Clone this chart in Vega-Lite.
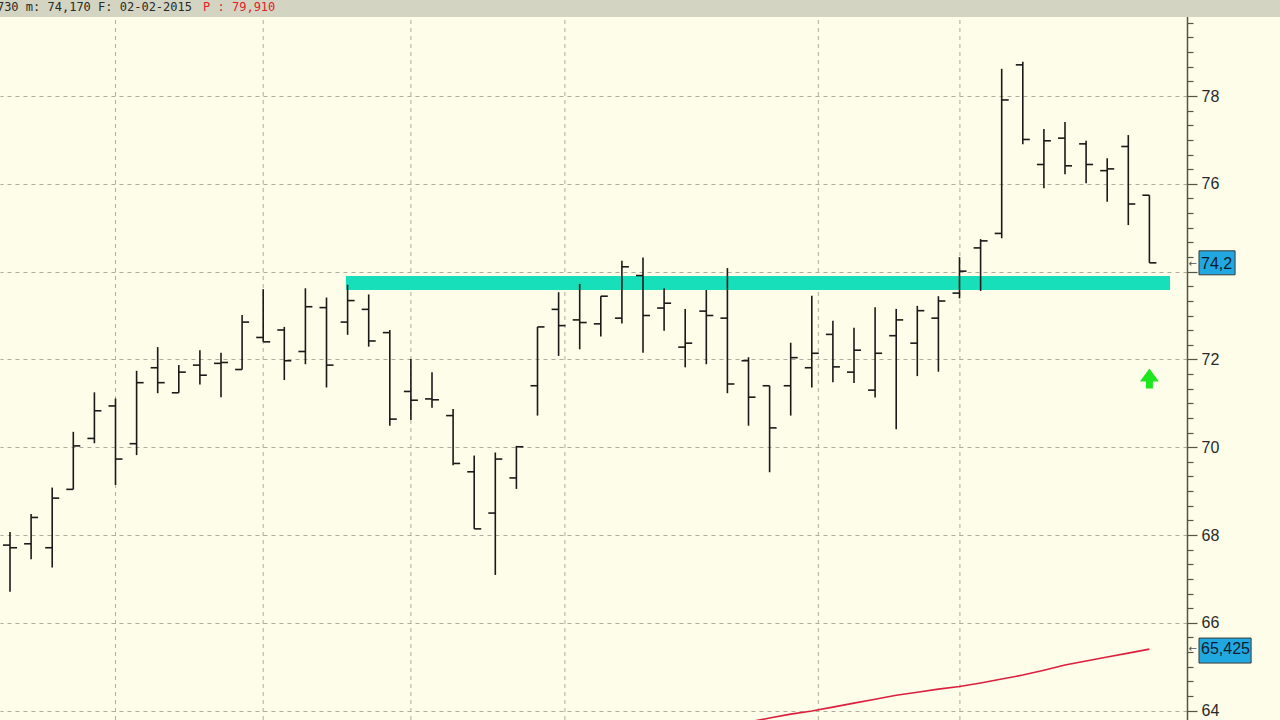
{
  "$schema": "https://vega.github.io/schema/vega-lite/v6.json",
  "width": 1187,
  "height": 720,
  "autosize": {"type": "none"},
  "padding": {"left": 0, "top": 0, "right": 93, "bottom": 0},
  "background": "#fdfde9",
  "config": {"view": {"stroke": null, "fill": "#fdfde9"}},
  "resolve": {"axis": {"y": "independent", "x": "independent"}},
  "datasets": {
    "bars": [
      {"i":1,"o":67.77,"h":68.07,"l":66.71,"c":67.71},
      {"i":2,"o":67.80,"h":68.48,"l":67.45,"c":68.40},
      {"i":3,"o":67.71,"h":69.08,"l":67.26,"c":68.84},
      {"i":4,"o":69.04,"h":70.35,"l":69.04,"c":70.03},
      {"i":5,"o":70.20,"h":71.25,"l":70.09,"c":70.83},
      {"i":6,"o":70.94,"h":71.11,"l":69.14,"c":69.73},
      {"i":7,"o":70.08,"h":71.74,"l":69.82,"c":71.47},
      {"i":8,"o":71.81,"h":72.28,"l":71.23,"c":71.47},
      {"i":9,"o":71.24,"h":71.87,"l":71.24,"c":71.71},
      {"i":10,"o":71.87,"h":72.21,"l":71.43,"c":71.64},
      {"i":11,"o":71.91,"h":72.15,"l":71.14,"c":71.93},
      {"i":12,"o":71.77,"h":73.01,"l":71.77,"c":72.85},
      {"i":13,"o":72.50,"h":73.60,"l":72.40,"c":72.40},
      {"i":14,"o":72.67,"h":72.74,"l":71.53,"c":71.97},
      {"i":15,"o":72.18,"h":73.62,"l":71.89,"c":73.20},
      {"i":16,"o":73.18,"h":73.41,"l":71.36,"c":71.87},
      {"i":17,"o":72.85,"h":73.70,"l":72.56,"c":73.34},
      {"i":18,"o":73.14,"h":73.48,"l":72.29,"c":72.42},
      {"i":19,"o":72.61,"h":72.67,"l":70.49,"c":70.64},
      {"i":20,"o":71.27,"h":72.01,"l":70.62,"c":71.07},
      {"i":21,"o":71.10,"h":71.71,"l":70.90,"c":71.08},
      {"i":22,"o":70.72,"h":70.87,"l":69.59,"c":69.63},
      {"i":23,"o":69.44,"h":69.81,"l":68.14,"c":68.14},
      {"i":24,"o":68.50,"h":69.88,"l":67.09,"c":69.73},
      {"i":25,"o":69.30,"h":70.03,"l":69.05,"c":70.01},
      {"i":26,"o":71.40,"h":72.74,"l":70.72,"c":72.74},
      {"i":27,"o":73.14,"h":73.53,"l":72.08,"c":72.77},
      {"i":28,"o":72.90,"h":73.72,"l":72.23,"c":72.84},
      {"i":29,"o":72.81,"h":73.44,"l":72.52,"c":73.44},
      {"i":30,"o":72.94,"h":74.25,"l":72.82,"c":74.11},
      {"i":31,"o":73.91,"h":74.32,"l":72.15,"c":73.00},
      {"i":32,"o":73.17,"h":73.62,"l":72.65,"c":73.28},
      {"i":33,"o":72.28,"h":73.15,"l":71.82,"c":72.37},
      {"i":34,"o":73.10,"h":73.58,"l":71.89,"c":73.00},
      {"i":35,"o":72.94,"h":74.08,"l":71.23,"c":71.44},
      {"i":36,"o":71.97,"h":72.05,"l":70.49,"c":71.14},
      {"i":37,"o":71.40,"h":71.40,"l":69.43,"c":70.44},
      {"i":38,"o":71.40,"h":72.38,"l":70.72,"c":72.04},
      {"i":39,"o":71.81,"h":73.45,"l":71.36,"c":72.14},
      {"i":40,"o":72.57,"h":72.88,"l":71.48,"c":71.83},
      {"i":41,"o":71.71,"h":72.72,"l":71.46,"c":72.21},
      {"i":42,"o":71.30,"h":73.19,"l":71.13,"c":72.14},
      {"i":43,"o":72.54,"h":73.15,"l":70.41,"c":72.90},
      {"i":44,"o":72.37,"h":73.22,"l":71.62,"c":73.11},
      {"i":45,"o":72.94,"h":73.44,"l":71.72,"c":73.33},
      {"i":46,"o":73.51,"h":74.33,"l":73.39,"c":74.01},
      {"i":47,"o":74.54,"h":74.74,"l":73.56,"c":74.70},
      {"i":48,"o":74.87,"h":78.62,"l":74.76,"c":77.91},
      {"i":49,"o":78.71,"h":78.78,"l":76.90,"c":77.01},
      {"i":50,"o":76.44,"h":77.25,"l":75.90,"c":76.98},
      {"i":51,"o":77.04,"h":77.41,"l":76.22,"c":76.41},
      {"i":52,"o":76.91,"h":76.98,"l":76.01,"c":76.44},
      {"i":53,"o":76.30,"h":76.58,"l":75.59,"c":76.34},
      {"i":54,"o":76.85,"h":77.11,"l":75.06,"c":75.54},
      {"i":55,"o":75.74,"h":75.74,"l":74.20,"c":74.20}
    ],
    "ma": [
      {"i":35,"m":63.65},{"i":36,"m":63.74},{"i":37,"m":63.83},{"i":38,"m":63.92},
      {"i":39,"m":63.99},{"i":40,"m":64.08},{"i":41,"m":64.17},{"i":42,"m":64.26},
      {"i":43,"m":64.35},{"i":44,"m":64.42},{"i":45,"m":64.49},{"i":46,"m":64.55},
      {"i":47,"m":64.63},{"i":48,"m":64.72},{"i":49,"m":64.81},{"i":50,"m":64.92},
      {"i":51,"m":65.04},{"i":52,"m":65.13},{"i":53,"m":65.22},{"i":54,"m":65.31},
      {"i":55,"m":65.40}
    ],
    "vgrid": [{"g":6},{"g":13},{"g":20},{"g":27.3},{"g":39.31},{"g":46.02}],
    "zone": [{"a":16.92,"b":55.98,"lo":73.58,"hi":73.90}]
  },
  "layer": [
    {
      "data": {"name": "vgrid"},
      "mark": {"type": "rule", "color": "#aeae9e", "strokeDash": [4, 4], "strokeWidth": 1},
      "encoding": {
        "x": {"field": "g", "type": "quantitative", "scale": {"domain": [0.526, 56.782], "nice": false, "zero": false}, "axis": null},
        "y": {
          "datum": 63.786, "type": "quantitative",
          "scale": {"domain": [63.786, 80.187], "nice": false, "zero": false},
          "axis": {
            "orient": "right",
            "title": null,
            "values": [64,64.3333,64.6667,65,65.3333,65.6667,66,66.3333,66.6667,67,67.3333,67.6667,68,68.3333,68.6667,69,69.3333,69.6667,70,70.3333,70.6667,71,71.3333,71.6667,72,72.3333,72.6667,73,73.3333,73.6667,74,74.3333,74.6667,75,75.3333,75.6667,76,76.3333,76.6667,77,77.3333,77.6667,78,78.3333,78.6667,79,79.3333,79.6667],
            "labelExpr": "abs(datum.value/2 - round(datum.value/2)) < 0.01 && abs(datum.value - 74) > 0.01 ? format(datum.value, 'd') : ''",
            "labelOverlap": false,
            "labelBound": false,
            "labelFlush": false,
            "labelFont": "Liberation Sans",
            "labelFontSize": 16,
            "labelColor": "#2a2a2a",
            "labelPadding": 4,
            "domainColor": "#555544",
            "domainWidth": 1.5,
            "tickColor": "#555544",
            "tickWidth": 1.2,
            "tickSize": {"condition": {"test": "abs(datum.value/2 - round(datum.value/2)) < 0.01", "value": 10}, "value": 6},
            "grid": true,
            "gridColor": "#aeae9e",
            "gridDash": [4, 4],
            "gridWidth": 1,
            "gridOpacity": {"condition": {"test": "abs(datum.value/2 - round(datum.value/2)) < 0.01", "value": 1}, "value": 0}
          }
        },
        "y2": {"datum": 79.81}
      }
    },
    {
      "data": {"name": "zone"},
      "mark": {"type": "rect", "color": "#17dfb9"},
      "encoding": {
        "x": {"field": "a", "type": "quantitative", "scale": {"domain": [0.526, 56.782], "nice": false, "zero": false}, "axis": null},
        "x2": {"field": "b"},
        "y": {"field": "lo", "type": "quantitative", "scale": {"domain": [63.786, 80.187], "nice": false, "zero": false}, "axis": null},
        "y2": {"field": "hi"}
      }
    },
    {
      "data": {"name": "ma"},
      "mark": {"type": "line", "color": "#dc1f3c", "strokeWidth": 1.6, "clip": true},
      "encoding": {
        "x": {"field": "i", "type": "quantitative", "scale": {"domain": [0.526, 56.782], "nice": false, "zero": false}, "axis": null},
        "y": {"field": "m", "type": "quantitative", "scale": {"domain": [63.786, 80.187], "nice": false, "zero": false}, "axis": null}
      }
    },
    {
      "data": {"name": "bars"},
      "mark": {"type": "rule", "color": "#1a1a1a", "strokeWidth": 1.6},
      "encoding": {
        "x": {"field": "i", "type": "quantitative", "scale": {"domain": [0.526, 56.782], "nice": false, "zero": false}, "axis": null},
        "y": {"field": "l", "type": "quantitative", "scale": {"domain": [63.786, 80.187], "nice": false, "zero": false}, "axis": null},
        "y2": {"field": "h"}
      }
    },
    {
      "data": {"name": "bars"},
      "mark": {"type": "rule", "color": "#1a1a1a", "strokeWidth": 1.6, "xOffset": -7, "x2Offset": 0},
      "encoding": {
        "x": {"field": "i", "type": "quantitative", "scale": {"domain": [0.526, 56.782], "nice": false, "zero": false}, "axis": null},
        "x2": {"field": "i"},
        "y": {"field": "o", "type": "quantitative", "scale": {"domain": [63.786, 80.187], "nice": false, "zero": false}, "axis": null}
      }
    },
    {
      "data": {"name": "bars"},
      "mark": {"type": "rule", "color": "#1a1a1a", "strokeWidth": 1.6, "xOffset": 0, "x2Offset": 7},
      "encoding": {
        "x": {"field": "i", "type": "quantitative", "scale": {"domain": [0.526, 56.782], "nice": false, "zero": false}, "axis": null},
        "x2": {"field": "i"},
        "y": {"field": "c", "type": "quantitative", "scale": {"domain": [63.786, 80.187], "nice": false, "zero": false}, "axis": null}
      }
    },
    {
      "data": {"values": [{"lvl": 71.565}]},
      "mark": {"type": "point", "filled": true, "color": "#1ee61e", "opacity": 1, "size": 400,
               "shape": "M0,-1L0.95,0.3L0.35,0.3L0.35,1L-0.35,1L-0.35,0.3L-0.95,0.3Z"},
      "encoding": {
        "x": {"datum": 55.0, "type": "quantitative", "scale": {"domain": [0.526, 56.782], "nice": false, "zero": false}, "axis": null},
        "y": {"field": "lvl", "type": "quantitative", "scale": {"domain": [63.786, 80.187], "nice": false, "zero": false}, "axis": null}
      }
    },
    {
      "data": {"values": [{"p": 74.2}]},
      "mark": {"type": "rect", "fill": "#22a8e0", "stroke": "#3a3a3a", "strokeWidth": 1, "yOffset": -12, "y2Offset": 12},
      "encoding": {
        "x": {"datum": 57.35, "type": "quantitative", "scale": {"domain": [0.526, 56.782], "nice": false, "zero": false}, "axis": null},
        "x2": {"datum": 59.06},
        "y": {"field": "p", "type": "quantitative", "scale": {"domain": [63.786, 80.187], "nice": false, "zero": false}, "axis": null},
        "y2": {"field": "p"}
      }
    },
    {
      "data": {"values": [{"p": 65.425}]},
      "mark": {"type": "rect", "fill": "#22a8e0", "stroke": "#3a3a3a", "strokeWidth": 1, "yOffset": -10, "y2Offset": 15},
      "encoding": {
        "x": {"datum": 57.35, "type": "quantitative", "scale": {"domain": [0.526, 56.782], "nice": false, "zero": false}, "axis": null},
        "x2": {"datum": 59.82},
        "y": {"field": "p", "type": "quantitative", "scale": {"domain": [63.786, 80.187], "nice": false, "zero": false}, "axis": null},
        "y2": {"field": "p"}
      }
    },
    {
      "data": {"values": [{"p": 74.2, "t": "74,2"}, {"p": 65.425, "t": "65,425"}]},
      "mark": {"type": "text", "align": "left", "baseline": "middle", "font": "Liberation Sans", "fontSize": 16, "color": "#0c1c2c", "dx": 2, "dy": 1},
      "encoding": {
        "x": {"datum": 57.35, "type": "quantitative", "scale": {"domain": [0.526, 56.782], "nice": false, "zero": false}, "axis": null},
        "y": {"field": "p", "type": "quantitative", "scale": {"domain": [63.786, 80.187], "nice": false, "zero": false}, "axis": null},
        "text": {"field": "t"}
      }
    },
    {
      "data": {"values": [{"p": 74.2}, {"p": 65.425}]},
      "mark": {"type": "text", "align": "center", "baseline": "middle", "font": "DejaVu Sans", "fontSize": 10, "color": "#555555", "dy": 1, "text": "←"},
      "encoding": {
        "x": {"datum": 57.05, "type": "quantitative", "scale": {"domain": [0.526, 56.782], "nice": false, "zero": false}, "axis": null},
        "y": {"field": "p", "type": "quantitative", "scale": {"domain": [63.786, 80.187], "nice": false, "zero": false}, "axis": null}
      }
    },
    {
      "data": {"values": [{}]},
      "mark": {"type": "rect", "fill": "#d4d4c2"},
      "encoding": {
        "x": {"datum": 0.0, "type": "quantitative", "scale": {"domain": [0.526, 56.782], "nice": false, "zero": false}, "axis": null},
        "x2": {"datum": 62},
        "y": {"datum": 79.80, "type": "quantitative", "scale": {"domain": [63.786, 80.187], "nice": false, "zero": false}, "axis": null},
        "y2": {"datum": 80.7}
      }
    },
    {
      "data": {"values": [{"t": "730 m: 74,170 F: 02-02-2015", "col": "k", "at": 0.38}, {"t": "P : 79,910", "col": "r", "at": 10.15}]},
      "mark": {"type": "text", "align": "left", "baseline": "middle", "font": "DejaVu Sans Mono", "fontSize": 12},
      "encoding": {
        "x": {"field": "at", "type": "quantitative", "scale": {"domain": [0.526, 56.782], "nice": false, "zero": false}, "axis": null},
        "y": {"datum": 80.02, "type": "quantitative", "scale": {"domain": [63.786, 80.187], "nice": false, "zero": false}, "axis": null},
        "text": {"field": "t"},
        "color": {"field": "col", "type": "nominal", "scale": {"domain": ["k", "r"], "range": ["#2a2a2a", "#e0202a"]}, "legend": null}
      }
    }
  ]
}
